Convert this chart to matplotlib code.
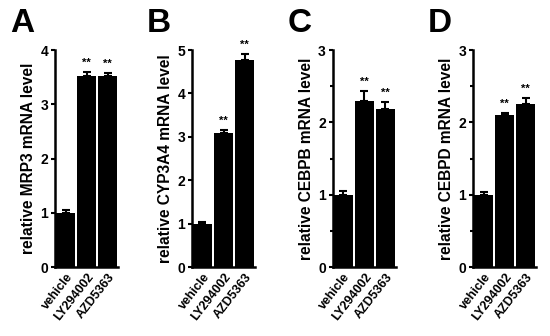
import matplotlib
matplotlib.use("Agg")
import matplotlib.pyplot as plt
from matplotlib.ticker import MultipleLocator

plt.rcParams["font.family"] = ["Liberation Sans", "DejaVu Sans"]
plt.rcParams["font.weight"] = "bold"

groups = ["vehicle", "LY294002", "AZD5363"]

mrp3 = [1.0, 3.52, 3.52]
mrp3_err = [0.05, 0.07, 0.05]
cyp3a4 = [1.0, 3.1, 4.76]
cyp3a4_err = [0.05, 0.06, 0.14]
cebpb = [1.0, 2.3, 2.18]
cebpb_err = [0.05, 0.13, 0.1]
cebpd = [1.0, 2.1, 2.25]
cebpd_err = [0.04, 0.03, 0.09]

panels = [
    ("A", "MRP3", mrp3, mrp3_err, 4, 1, None),
    ("B", "CYP3A4", cyp3a4, cyp3a4_err, 5, 1, None),
    ("C", "CEBPB", cebpb, cebpb_err, 3, 1, 0.5),
    ("D", "CEBPD", cebpd, cebpd_err, 3, 1, 0.5),
]
lefts = [0.1, 0.349, 0.605, 0.86]

fig = plt.figure(figsize=(5.5, 3.36), dpi=100)
for (letter, gene, vals, errs, ymax, major, minor), left in zip(panels, lefts):
    ax = fig.add_axes([left, 0.205, 0.115, 0.646])
    x = range(len(groups))
    ax.bar(x, vals, width=0.88, color="black", yerr=[[0] * 3, errs],
           error_kw=dict(ecolor="black", elinewidth=1.5, capsize=3, capthick=1.5))
    for i in (1, 2):
        ax.text(i, vals[i] + errs[i] + ymax * 0.02, "**", ha="center", va="bottom",
                fontsize=8, fontweight="bold")
    ax.set_xlim(-0.5, 2.5)
    ax.set_ylim(0, ymax)
    ax.yaxis.set_major_locator(MultipleLocator(major))
    if minor:
        ax.yaxis.set_minor_locator(MultipleLocator(minor))
    ax.set_xticks(list(x))
    ax.set_xticklabels(groups, rotation=52, ha="right", rotation_mode="anchor",
                       fontsize=9, fontweight="bold")
    ax.tick_params(axis="x", length=0, pad=3)
    ax.tick_params(axis="y", which="major", length=3, width=1.5, labelsize=10, pad=2)
    ax.tick_params(axis="y", which="minor", length=2, width=1.5)
    for lbl in ax.get_yticklabels():
        lbl.set_fontweight("bold")
    for s in ("top", "right"):
        ax.spines[s].set_visible(False)
    for s in ("left", "bottom"):
        ax.spines[s].set_linewidth(1.8)
    ax.set_ylabel(f"relative {gene} mRNA level", fontsize=11.2, fontweight="bold", labelpad=3)
    fig.text(left - 0.082, 0.975, letter, fontsize=24, fontweight="bold", va="top", ha="left")

fig.savefig("out.png", dpi=100)
